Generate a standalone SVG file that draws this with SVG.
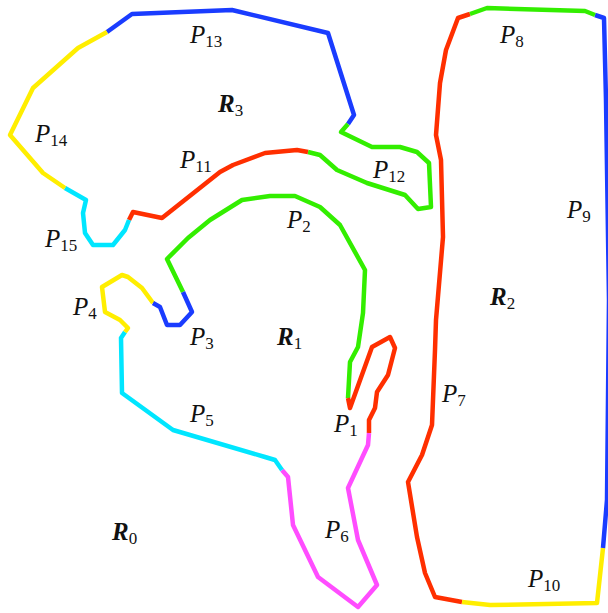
<svg xmlns="http://www.w3.org/2000/svg" width="608" height="613" viewBox="0 0 608 613">
<style>
.c{fill:none;stroke-width:4.5;stroke-linejoin:round;stroke-linecap:butt}
.r{stroke:#ff2f00}.g{stroke:#33ee00}.b{stroke:#1a3cff}.y{stroke:#ffee00}.cy{stroke:#00e6ff}.m{stroke:#ff4dff}
text{font-family:"Liberation Serif","DejaVu Serif",serif;fill:#111}
.p{font-size:25px;font-style:italic}
.R{font-size:25px;font-style:italic;font-weight:bold}
.s{font-size:17px;font-style:normal;font-weight:normal}
</style>
<rect width="608" height="613" fill="#fff"/>
<g id="curves">
<!-- R3 boundary -->
<polyline class="c b" points="107,32 132,14 232,10 328,33 354,115 348,124"/>
<polyline class="c g" points="348,124 341,132 372,147 400,147 417,152 429,163 431,207 418,209 405,195 367,183 337,170 320,155 308,152"/>
<polyline class="c r" points="308,152 297,150 265,153 233,165 220,172 162,218 133,212 129,220"/>
<polyline class="c cy" points="129,220 125,230 113,245 93,245 85,233 83,213 86,200 65,188"/>
<polyline class="c y" points="65,188 43,173 10,135 33,88 78,48 107,32"/>
<!-- R1 boundary -->
<polyline class="c g" points="183,292 167,259 188,238 210,220 242,200 270,196 295,196 320,207 340,225 365,270 363,313 358,347 350,362 348,398"/>
<polyline class="c r" points="348,398 350,408 372,347 390,337 395,348 388,375 377,392 375,408 369,420 369,433"/>
<polyline class="c m" points="369,433 368,445 348,488 358,540 377,585 358,607 318,577 293,525 288,477 282,470"/>
<polyline class="c cy" points="282,470 275,460 265,457 173,430 122,393 121,338 125,332"/>
<polyline class="c y" points="125,332 128,328 120,320 105,312 102,287 122,275 128,277 142,288 153,303"/>
<polyline class="c b" points="153,303 160,307 167,325 180,325 192,312 183,292"/>
<!-- R2 boundary -->
<polyline class="c r" points="470,14 458,18 446,50 440,83 436,135 441,160 443,237 436,320 435,350 432,425 422,455 408,482 417,537 425,573 435,597 462,602"/>
<polyline class="c y" points="462,602 490,605 597,603 603,548"/>
<polyline class="c b" points="603,548 607,500 609,300 606,100 604,18 595,15"/>
<polyline class="c g" points="595,15 585,11 487,8 470,14"/>
</g>
<g id="labels">
<text class="p" x="190" y="43">P<tspan class="s" dy="4">13</tspan></text>
<text class="p" x="35" y="142">P<tspan class="s" dy="4">14</tspan></text>
<text class="p" x="180" y="168">P<tspan class="s" dy="4">11</tspan></text>
<text class="p" x="45" y="247">P<tspan class="s" dy="4">15</tspan></text>
<text class="R" x="218" y="112">R<tspan class="s" dy="4">3</tspan></text>
<text class="p" x="373" y="178">P<tspan class="s" dy="4">12</tspan></text>
<text class="p" x="287" y="228">P<tspan class="s" dy="4">2</tspan></text>
<text class="p" x="500" y="43">P<tspan class="s" dy="4">8</tspan></text>
<text class="p" x="567" y="218">P<tspan class="s" dy="4">9</tspan></text>
<text class="R" x="490" y="305">R<tspan class="s" dy="4">2</tspan></text>
<text class="p" x="73" y="315">P<tspan class="s" dy="4">4</tspan></text>
<text class="p" x="190" y="345">P<tspan class="s" dy="4">3</tspan></text>
<text class="R" x="277" y="345">R<tspan class="s" dy="4">1</tspan></text>
<text class="p" x="190" y="422">P<tspan class="s" dy="4">5</tspan></text>
<text class="p" x="334" y="432">P<tspan class="s" dy="4">1</tspan></text>
<text class="p" x="325" y="538">P<tspan class="s" dy="4">6</tspan></text>
<text class="p" x="442" y="402">P<tspan class="s" dy="4">7</tspan></text>
<text class="p" x="528" y="587">P<tspan class="s" dy="4">10</tspan></text>
<text class="R" x="112" y="540">R<tspan class="s" dy="4">0</tspan></text>
</g>
</svg>
